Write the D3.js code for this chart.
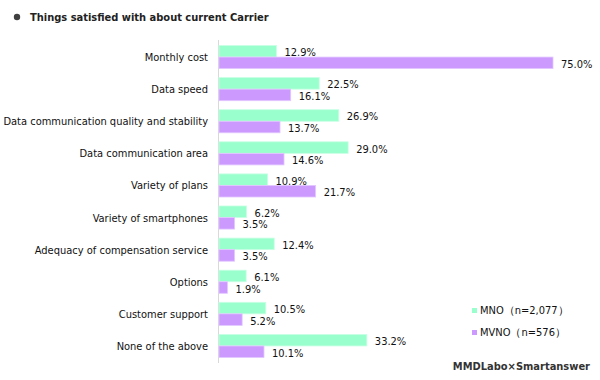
<!DOCTYPE html>
<html><head><meta charset="utf-8">
<script src="https://cdn.jsdelivr.net/npm/d3@7"></script>
<style>body{margin:0;background:#fff}svg{display:block}text{font-stretch:condensed}</style>
</head><body>
<svg id="c" width="600" height="380"></svg>
<script>
const categories = ["Monthly cost","Data speed","Data communication quality and stability","Data communication area","Variety of plans","Variety of smartphones","Adequacy of compensation service","Options","Customer support","None of the above"];
const mno = [12.9,22.5,26.9,29.0,10.9,6.2,12.4,6.1,10.5,33.2];
const mvno = [75.0,16.1,13.7,14.6,21.7,3.5,3.5,1.9,5.2,10.1];
const seriesNames = ["MNO（n=2,077）","MVNO（n=576）"];
const title = "Things satisfied with about current Carrier";
const source = "MMDLabo×Smartanswer";

const svg = d3.select("#c");
const font = "'DejaVu Sans Condensed', 'DejaVu Sans', sans-serif";
const fill = ["#99FFCC","#CC99FF"];
const stroke = ["#c8ffe4","#e2c8ff"];

const x = d3.scaleLinear().domain([0,75]).range([219,553]);
const y = d3.scaleBand().domain(categories).range([41,362]).paddingInner(0.28).paddingOuter(0.14);
const ySub = d3.scaleBand().domain([0,1]).range([0,y.bandwidth()]);

// title
svg.append("circle").attr("cx",17).attr("cy",17).attr("r",3.2).attr("fill","#404040");
svg.append("text").attr("x",30).attr("y",21).text(title)
  .attr("font-family",font).attr("font-size",11).attr("font-weight","bold").attr("fill","#222");

// axis line
svg.append("line").attr("x1",218.5).attr("x2",218.5).attr("y1",40).attr("y2",363)
  .attr("stroke","#d9d9d9").attr("stroke-width",1);

// category labels
svg.append("g").selectAll("text").data(categories).join("text")
  .attr("x",208).attr("y",d=>y(d)+y.bandwidth()/2+4)
  .attr("text-anchor","end").attr("font-family",font).attr("font-size",11).attr("fill","#111")
  .text(d=>d);

const series = [mno, mvno];
series.forEach((vals,si)=>{
  const g = svg.append("g");
  g.selectAll("rect").data(vals).join("rect")
    .attr("x",x(0)).attr("y",(d,i)=>y(categories[i])+ySub(si))
    .attr("width",d=>x(d)-x(0)).attr("height",ySub.bandwidth())
    .attr("fill",fill[si]).attr("stroke",stroke[si]).attr("stroke-width",0.8);
  g.selectAll("text").data(vals).join("text")
    .attr("x",d=>x(d)+8).attr("y",(d,i)=>y(categories[i])+ySub(si)+ySub.bandwidth()/2+5)
    .attr("font-family",font).attr("font-size",11).attr("fill","#111")
    .text(d=>d.toFixed(1)+"%");
});

// legend
seriesNames.forEach((n,i)=>{
  const ly = 310 + i*22;
  svg.append("rect").attr("x",472).attr("y",ly-2).attr("width",5).attr("height",5).attr("fill",fill[i]);
  svg.append("text").attr("x",480).attr("y",ly+4).text(n)
    .attr("font-family",font).attr("font-size",11).attr("fill","#111");
});

svg.append("text").attr("x",590).attr("y",370).attr("text-anchor","end").text(source)
  .attr("font-family",font).attr("font-size",11).attr("font-weight","bold").attr("fill","#333");
</script>
</body></html>
